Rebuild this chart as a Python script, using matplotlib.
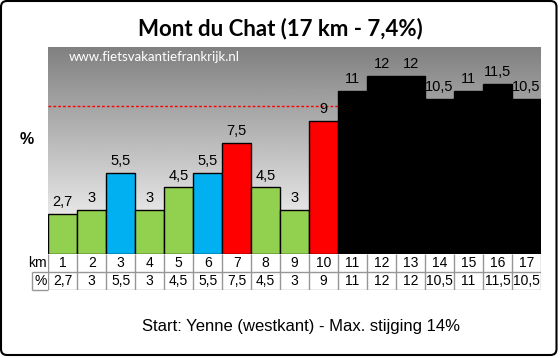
import numpy as np
import matplotlib
matplotlib.use("Agg")
from matplotlib import pyplot as plt
from matplotlib.patches import FancyBboxPatch
from matplotlib.transforms import IdentityTransform

# data
km = [1, 2, 3, 4, 5, 6, 7, 8, 9, 10, 11, 12, 13, 14, 15, 16, 17]
pct = [2.7, 3, 5.5, 3, 4.5, 5.5, 7.5, 4.5, 3, 9, 11, 12, 12, 10.5, 11, 11.5, 10.5]
ref_line = 10
title = "Mont du Chat (17 km - 7,4%)"
site = "www.fietsvakantiefrankrijk.nl"
footer = "Start: Yenne (westkant) - Max. stijging 14%"

def fmt(v):
    return ("%g" % v).replace(".", ",")

def colour(v):
    if v < 5:
        return "#92D050"
    if v < 7:
        return "#00B0F0"
    if v < 10:
        return "#FF0000"
    return "#000000"

W, H = 560, 358
fig = plt.figure(figsize=(W/100, H/100), dpi=100)
fig.patch.set_facecolor("white")

x0, x1 = 48.3, 541
y_top, y_bot = 46.7, 254
ax = fig.add_axes([x0/W, 1-y_bot/H, (x1-x0)/W, (y_bot-y_top)/H])
n = len(km)
x = np.arange(n)
ax.set_xlim(-0.5, n-0.5)
ax.set_ylim(0, 14)
ax.axis("off")

# gradient background
grad = np.linspace(0.5, 1.0, 256).reshape(-1, 1)
ax.imshow(grad, extent=[-0.5, n-0.5, 0, 14], aspect="auto", cmap="gray",
          vmin=0, vmax=1, origin="upper", zorder=0)

ax.axhline(ref_line, color="red", lw=1, ls=(0, (2, 1.5)), zorder=1)
ax.bar(x, pct, width=1.0, color=[colour(v) for v in pct],
       edgecolor="black", lw=1, zorder=2)
for xi, v in zip(x, pct):
    ax.annotate(fmt(v), (xi, v), xytext=(0, 3.5), textcoords="offset points",
                ha="center", va="bottom", fontsize=10.5,
                family="Liberation Sans", zorder=3)

ax.text(0.042, 0.95, site, transform=ax.transAxes, color="white",
        fontsize=9.5, family="Lato", va="center", ha="left")

# table under the bars
t_bot = 290
tax = fig.add_axes([x0/W, 1-t_bot/H, (x1-x0)/W, (t_bot-y_bot)/H])
tax.set_xlim(-0.5, n-0.5)
tax.set_ylim(0, 2)
tax.axis("off")
gc = "#969696"
edges = np.arange(n+1) - 0.5
tax.vlines(edges, 0, 2, color=gc, lw=1)
tax.hlines([0, 1], -0.5, n-0.5, color=gc, lw=1)
lx = -0.5 - 16.6/((x1-x0)/n)
tax.hlines([0, 1], lx, -0.5, color=gc, lw=1, clip_on=False)
tax.vlines([lx], 0, 1, color=gc, lw=1, clip_on=False)
for xi, k, v in zip(x, km, pct):
    tax.text(xi, 1.5, str(k), ha="center", va="center", fontsize=10,
             family="Liberation Sans")
    tax.text(xi, 0.5, fmt(v), ha="center", va="center", fontsize=10,
             family="Liberation Sans")
tax.text(-0.55, 1.5, "km", ha="right", va="center", fontsize=10,
         family="Liberation Sans")
tax.text(-0.55, 0.5, "%", ha="right", va="center", fontsize=10,
         family="Liberation Sans")

fig.text(280/W, 1-29/H, title, ha="center", va="center", fontsize=16,
         fontweight="bold", family="Lato")
fig.text(27/W, 1-140/H, "%", ha="center", va="center", fontsize=11.5,
         fontweight="bold", family="Liberation Sans")
fig.text(301/W, 1-327/H, footer, ha="center", va="center", fontsize=12,
         family="Liberation Sans")

border = FancyBboxPatch((1, 3), 555.5, 354, boxstyle="round,pad=0,rounding_size=6",
                        fill=False, ec="black", lw=1.5, transform=IdentityTransform())
fig.patches.append(border)

fig.savefig("out.png", dpi=100)
